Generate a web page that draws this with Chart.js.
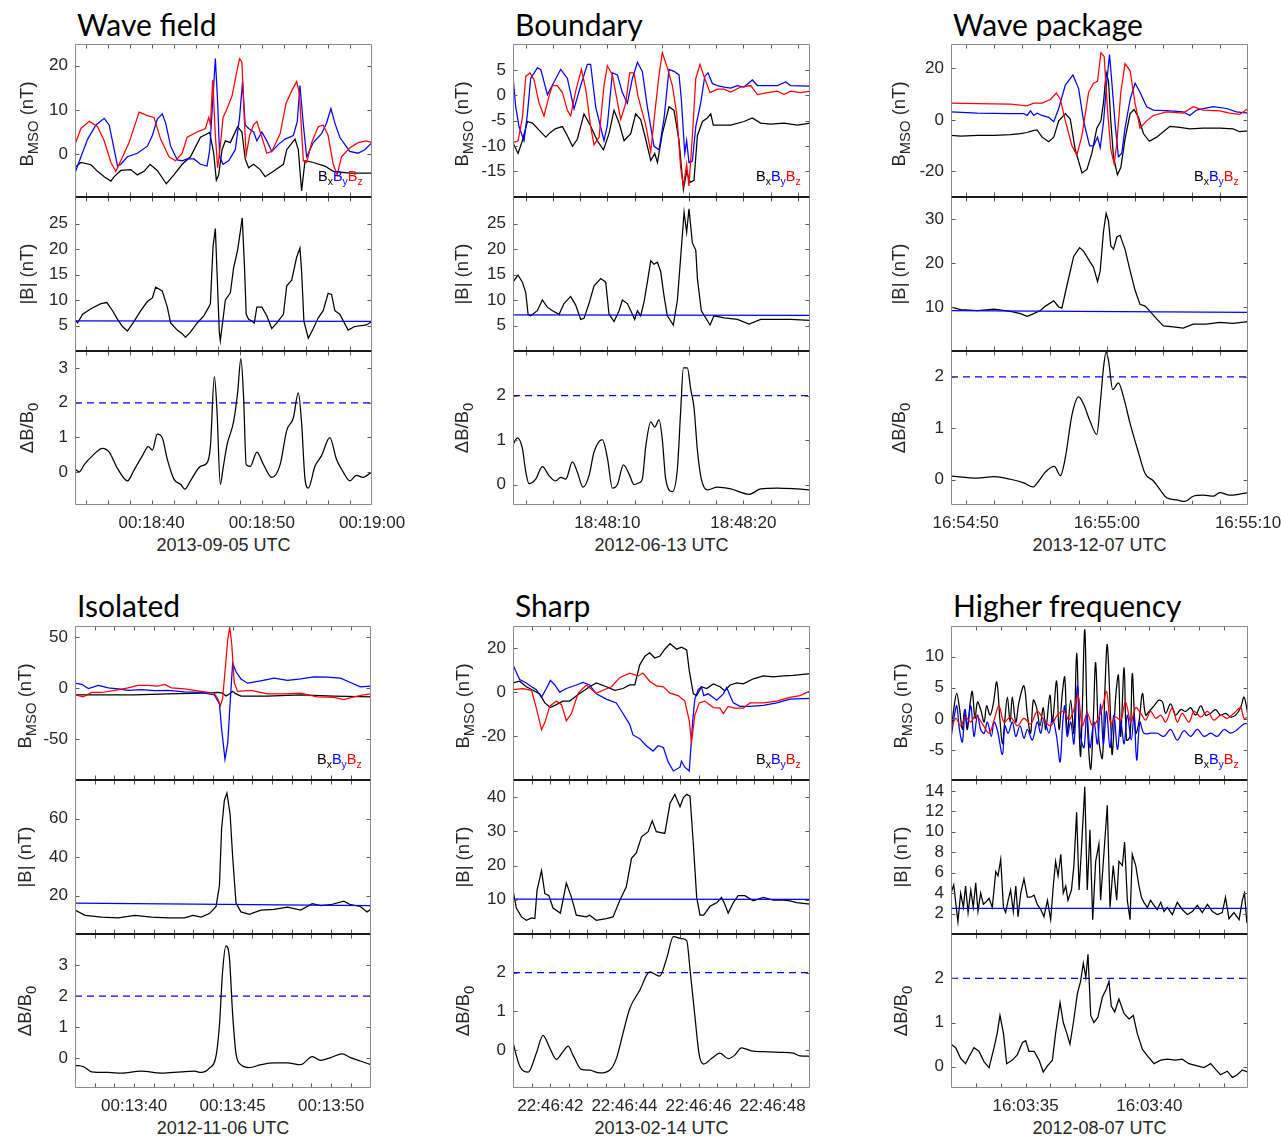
<!doctype html>
<html>
<head>
<meta charset="utf-8">
<title>Magnetic field events</title>
<script src="https://cdn.jsdelivr.net/npm/chart.js@4.4.0/dist/chart.umd.min.js"></script>
<style>
  body { margin: 0; background: #fff; }
  #fig { position: relative; width: 1281px; height: 1138px; font-family: "Liberation Sans", Arial, sans-serif; color: #262626; overflow: hidden; }
  #fig canvas { position: absolute; }
  .ttl { position: absolute; font-family: Lato, "Open Sans", sans-serif; font-size: 30px; line-height: 30px; color: #000; white-space: nowrap; }
  .ylab { position: absolute; font-size: 18.5px; line-height: 18px; white-space: nowrap; transform: translate(-50%, -50%) rotate(-90deg); }
  .ylab sub { font-size: 80%; }
  .xlab { position: absolute; font-size: 18px; line-height: 20px; white-space: nowrap; transform: translateX(-50%); }
  .leg { position: absolute; font-size: 14.5px; line-height: 14px; white-space: nowrap; }
  sub { font-size: 72%; vertical-align: -0.35em; line-height: 0; }
</style>
</head>
<body>
<div id="fig"></div>
<script>
// ---- Wave field (2013-09-05), seconds after 00:18:00
const wfTicks = [34,36,38,40,42,44,46,48,50,52,54,56,58,60];
const wfLabelAt = [40, 50, 60];
const wfLabels = ['00:18:40', '00:18:50', '00:19:00'];
const wfYTicks = [[0,10,20],[5,10,15,20,25],[0,1,2,3]];
const wfBx = [[33.04,-3],[33.58,-1.9],[34.49,-2.4],[35.09,-3.9],[35.69,-5.1],[36.30,-6.1],[36.60,-5.1],[37.20,-3.7],[38.10,-3.5],[38.70,-4.7],[39.31,-3.9],[39.85,-2.3],[40.51,-3.7],[41.33,-6.7],[42.02,-4.7],[42.77,-2.3],[43.52,-0.6],[44.43,3.8],[45.27,4.9],[45.63,0.2],[45.87,-5.9],[46.08,-4.7],[46.39,1.0],[46.69,3.0],[47.14,2.6],[47.80,6.2],[48.19,5.0],[48.49,-1.1],[48.80,-3.1],[49.25,-2.3],[49.85,-3.5],[50.30,-5.1],[51.05,-3.9],[51.96,-2.3],[52.26,1.0],[53.01,3.4],[53.31,1.0],[53.61,-8.3],[53.92,-1.5],[54.67,-1.9],[55.72,-2.7],[56.48,-3.9],[57.98,-4.3],[60,-4.3]];
const wfBy = [[33.04,-4.3],[33.58,-0.6],[34.19,3.4],[34.94,6.6],[35.69,8.1],[36.14,6.6],[36.60,1.0],[36.90,-2.7],[37.20,-2.3],[37.80,-0.6],[38.70,0.2],[39.61,1.8],[40.06,4.2],[40.51,7.9],[40.96,9.1],[41.27,7.0],[41.72,1.8],[42.32,-1.3],[42.77,-1.5],[43.22,-1.1],[43.83,-1.1],[44.43,-2.3],[45.03,-2.7],[45.27,1.0],[45.51,10.7],[45.78,21.6],[45.99,11.7],[46.17,-0.6],[46.48,-2.3],[46.99,-1.5],[47.59,1.0],[47.98,8.3],[48.25,16.4],[48.49,6.6],[48.80,5.8],[49.25,5.0],[49.55,3.0],[50.0,5.0],[50.45,3.0],[50.90,0.6],[51.51,2.2],[52.11,3.4],[52.86,4.2],[53.22,7.4],[53.46,15.5],[53.77,6.6],[54.07,-0.6],[54.67,2.6],[55.42,4.6],[55.87,7.0],[56.27,10.3],[56.63,7.0],[57.08,3.8],[57.53,2.2],[57.98,0.6],[58.73,0.2],[59.34,1.0],[60,2.6]];
const wfBz = [[33.04,2.2],[33.58,5.8],[34.34,7.4],[35.09,6.2],[35.69,3.0],[36.30,-1.9],[36.75,-3.9],[37.20,-1.5],[37.95,2.6],[38.86,9.5],[39.61,8.7],[40.21,8.3],[40.81,3.4],[41.57,-0.6],[42.17,-1.5],[42.77,0.2],[43.22,3.8],[44.13,5.0],[44.88,5.8],[45.18,8.3],[45.33,6.6],[45.54,16.8],[45.78,4.2],[45.99,-3.1],[46.23,1.8],[46.48,8.3],[46.78,9.9],[47.29,13.1],[47.74,18.8],[47.98,21.6],[48.19,20.8],[48.40,8.3],[48.58,-0.2],[48.89,4.2],[49.25,6.6],[49.55,7.4],[50.0,3.8],[50.45,0.2],[50.90,0.6],[51.66,4.6],[52.20,11.5],[52.71,14.3],[53.16,16.4],[53.40,13.9],[53.77,-1.5],[54.07,-1.9],[54.52,2.6],[55.12,6.2],[55.57,6.6],[56.02,4.2],[56.48,-2.3],[56.84,-4.7],[57.23,-0.6],[57.98,1.4],[58.73,2.6],[59.49,3.0],[60,2.6]];
const wfBt = [[33.04,6.2],[33.28,5.5],[33.73,7.2],[34.49,8.3],[35.39,9.3],[35.93,9.5],[36.45,7.9],[36.90,6.2],[37.35,4.8],[37.80,3.9],[38.40,5.8],[39.01,7.9],[39.61,9.7],[40.06,10.4],[40.36,12.5],[40.96,11.8],[41.42,8.6],[41.72,5.5],[42.32,4.1],[42.77,3.4],[43.07,2.7],[43.52,3.7],[44.13,5.5],[44.73,6.9],[45.18,8.6],[45.33,9.3],[45.57,20.5],[45.78,24.0],[45.93,15.6],[46.14,3.7],[46.23,2.0],[46.45,5.8],[46.69,10.0],[47.14,11.4],[47.44,16.3],[47.80,19.8],[48.04,23.3],[48.22,26.1],[48.43,16.3],[48.58,7.2],[48.80,6.2],[49.10,5.9],[49.31,5.5],[49.55,8.6],[50.0,8.6],[50.45,6.9],[50.90,4.4],[51.36,5.5],[51.96,7.2],[52.26,12.8],[52.71,13.9],[53.16,18.4],[53.46,20.2],[53.61,15.6],[53.82,5.8],[54.22,2.5],[54.67,4.4],[55.12,6.5],[55.57,7.9],[56.02,11.3],[56.33,11.1],[56.63,7.9],[57.08,7.2],[57.83,4.1],[58.43,4.8],[59.04,5.0],[59.49,5.1],[60,5.8]];
const wfB0 = [[33.04,5.9],[60,5.8]];
const wfDB = [[33.04,0.08],[33.43,0],[33.88,0.21],[34.64,0.47],[35.54,0.68],[36.14,0.57],[36.90,0.1],[37.80,-0.26],[38.40,0.05],[39.16,0.47],[39.70,0.73],[40.06,0.63],[40.51,1.09],[40.96,0.99],[41.42,0.36],[42.02,-0.21],[42.62,-0.36],[43.01,-0.5],[43.52,-0.26],[44.43,0.16],[45.03,0.26],[45.33,0.73],[45.69,2.76],[45.93,1.77],[46.23,-0.36],[46.48,0.1],[46.84,0.78],[47.44,1.46],[47.80,2.29],[48.10,3.28],[48.34,2.19],[48.58,0.21],[48.95,0.16],[49.55,0.57],[50.15,0.21],[50.90,-0.16],[51.66,0.21],[52.26,1.2],[52.86,1.56],[53.31,2.29],[53.61,1.41],[53.92,-0.21],[54.22,-0.47],[54.82,0.16],[55.42,0.47],[56.17,0.99],[56.78,0.36],[57.38,0],[57.98,-0.26],[58.58,-0.1],[59.19,-0.16],[60,0]];

// ---- Boundary (2012-06-13), seconds after 18:48:00
const bdTicks = [4,6,8,10,12,14,16,18,20,22,24];
const bdLabelAt = [10, 20];
const bdLabels = ['18:48:10', '18:48:20'];
const bdYTicks = [[-15,-10,-5,0,5],[5,10,15,20,25],[0,1,2]];
const bdBx = [[3.06,-9.4],[3.43,-11.5],[3.75,-9.0],[4.12,-5.2],[4.49,-5.5],[4.98,-6.9],[5.47,-8.3],[5.83,-7.3],[6.20,-6.6],[6.69,-6.2],[7.06,-8.0],[7.43,-10.1],[7.79,-8.7],[8.28,-3.7],[8.73,-5.9],[9.26,-9.0],[9.71,-10.8],[10.12,-7.6],[10.49,-3.0],[10.86,-5.5],[11.23,-9.0],[11.72,-7.6],[12.08,-3.7],[12.45,-4.8],[12.82,-8.7],[13.19,-12.9],[13.48,-11.5],[13.68,-13.3],[14.04,-7.6],[14.53,-2.3],[14.90,-3.0],[15.27,-9.0],[15.59,-18.6],[15.83,-15.1],[16.08,-17.2],[16.37,-16.8],[16.62,-8.0],[16.99,-5.2],[17.35,-4.5],[17.60,-3.7],[17.79,-5.9],[18.33,-5.9],[19.07,-5.9],[20.05,-5.2],[20.66,-4.5],[21.27,-5.5],[22.01,-5.7],[22.99,-5.5],[23.97,-5.9],[24.9,-5.5]];
const bdBy = [[3.06,3.7],[3.26,-2.3],[3.50,-6.2],[3.87,-9.0],[4.12,-3.7],[4.36,3.3],[4.85,5.4],[5.10,5.1],[5.59,0.1],[6.08,2.6],[6.57,5.1],[7.06,3.3],[7.55,-2.7],[8.04,1.9],[8.53,6.1],[8.77,6.1],[9.14,-2.3],[9.75,-9.0],[10.0,-5.9],[10.37,4.4],[10.74,4.0],[11.10,0.5],[11.47,-1.6],[11.84,3.3],[12.21,6.5],[12.57,4.7],[12.94,-2.3],[13.43,-10.1],[13.80,-10.8],[14.17,-4.5],[14.53,5.1],[14.90,4.7],[15.27,4.0],[15.44,-0.9],[15.69,-11.5],[15.83,-9.0],[16.0,-13.3],[16.25,-13.0],[16.50,-6.2],[16.86,-1.6],[17.16,3.7],[17.40,4.4],[17.72,2.3],[18.09,1.9],[18.58,1.6],[19.07,1.4],[19.56,1.9],[20.05,1.6],[20.66,3.0],[21.03,1.9],[21.76,1.9],[22.50,1.9],[23.11,2.6],[23.48,1.9],[24.9,1.8]];
const bdBz = [[3.06,-9.4],[3.43,-9.0],[3.75,-4.5],[4.0,3.7],[4.31,4.4],[4.61,3.0],[4.98,-1.6],[5.34,-4.1],[5.71,-0.2],[5.96,1.9],[6.32,1.9],[6.69,0.5],[7.06,-3.0],[7.30,-4.1],[7.67,0.8],[8.09,5.1],[8.41,1.2],[8.77,-6.2],[9.02,-9.8],[9.39,-8.3],[9.75,1.9],[10.0,5.8],[10.37,4.0],[10.61,0.5],[10.98,-4.8],[11.35,-1.6],[11.64,4.4],[11.96,4.4],[12.25,-0.2],[12.82,-5.9],[13.19,-11.2],[13.48,-3.7],[13.80,4.0],[14.04,8.4],[14.41,5.4],[14.78,1.9],[15.10,-3.7],[15.39,-14.3],[15.59,-17.9],[15.83,-13.6],[16.0,-17.9],[16.25,-8.0],[16.50,3.3],[16.81,6.1],[17.11,3.7],[17.55,0.5],[18.09,1.2],[18.58,1.2],[19.07,0.6],[19.80,1.6],[20.54,1.9],[21.03,0.1],[21.76,0.5],[22.50,0.8],[22.99,0.1],[23.48,0.8],[24.22,0.5],[24.9,0.8]];
const bdBt = [[3.06,13.5],[3.43,14.9],[3.75,13.5],[4.0,11.4],[4.17,7.2],[4.36,6.9],[4.85,7.9],[5.22,10.0],[5.59,8.6],[5.96,7.9],[6.45,7.2],[6.81,9.3],[7.30,10.7],[7.67,9.0],[8.04,6.2],[8.28,6.4],[8.65,9.3],[9.02,12.8],[9.51,14.2],[9.88,13.5],[10.12,7.2],[10.49,5.8],[10.86,7.9],[11.10,10.0],[11.47,9.3],[11.84,7.2],[12.01,6.2],[12.21,7.9],[12.45,6.9],[12.70,9.7],[12.94,13.5],[13.19,17.7],[13.43,17.0],[13.68,17.4],[13.92,15.6],[14.17,10.7],[14.41,6.9],[14.85,5.1],[15.15,10.0],[15.39,18.4],[15.64,27.2],[15.83,23.3],[16.0,27.9],[16.25,21.2],[16.50,19.8],[16.62,14.2],[16.91,7.9],[17.23,6.5],[17.55,5.1],[17.84,6.9],[18.58,6.5],[19.56,6.2],[20.42,5.3],[21.27,6.2],[22.50,6.2],[23.48,6.2],[24.9,6.0]];
const bdB0 = [[3.06,7.1],[24.9,7.0]];
const bdDB = [[3.06,0.89],[3.38,1.05],[3.75,0.81],[4.0,0.28],[4.24,0.02],[4.73,0.12],[5.22,0.40],[5.71,0.20],[6.20,0.08],[6.57,0.16],[6.94,0.12],[7.43,0.51],[7.79,0.28],[8.21,-0.06],[8.65,0.20],[9.02,0.73],[9.63,1.01],[10.0,0.60],[10.37,-0.08],[10.74,0],[11.18,0.44],[11.59,0.24],[11.96,0],[12.33,0.04],[12.57,0.12],[12.82,0.85],[13.19,1.41],[13.48,1.29],[13.80,1.45],[14.04,1.01],[14.29,0.12],[14.78,-0.16],[15.15,0.36],[15.39,1.65],[15.59,2.62],[15.88,2.62],[16.13,2.14],[16.37,1.73],[16.62,0.77],[16.91,0.12],[17.35,-0.12],[18.09,-0.06],[19.07,-0.10],[20.42,-0.22],[21.27,-0.10],[22.50,-0.08],[23.97,-0.10],[24.9,-0.12]];

// ---- Wave package (2013-12-07), seconds after 16:54:00
const wpTicks = [50,52,54,56,58,60,62,64,66,68,70];
const wpLabelAt = [50, 60, 70];
const wpLabels = ['16:54:50', '16:55:00', '16:55:10'];
const wpYTicks = [[-20,0,20],[10,20,30],[0,1,2]];
const wpBx = [[48.96,-6.0],[49.65,-6.3],[50.82,-6.0],[52.0,-6.0],[53.18,-5.7],[53.88,-5.3],[54.35,-4.9],[54.71,-4.3],[55.06,-3.9],[55.41,-6.7],[55.88,-8.5],[56.24,-6.7],[56.59,-0.4],[57.06,2.4],[57.41,0.3],[57.76,-11.5],[58.24,-20.6],[58.59,-19.2],[58.94,-12.9],[59.29,-3.2],[59.58,-0.4],[59.76,6.5],[59.95,18.3],[60.12,14.9],[60.28,-0.4],[60.47,-14.3],[60.75,-21.3],[60.99,-18.5],[61.29,-7.4],[61.65,2.4],[61.93,4.0],[62.24,1.0],[62.59,-5.3],[63.01,-8.3],[63.53,-6.7],[64.0,-4.6],[64.47,-2.5],[65.18,-2.9],[65.88,-3.5],[66.82,-3.2],[68.0,-3.2],[68.94,-3.5],[69.41,-4.6],[70,-4.3]];
const wpBy = [[48.96,3.1],[50.82,2.6],[53.18,2.4],[54.12,2.4],[54.35,1.7],[54.59,3.5],[54.82,1.7],[55.06,2.6],[55.41,1.7],[55.88,1.0],[56.24,-0.7],[56.59,4.4],[57.06,13.5],[57.60,17.4],[58.0,12.1],[58.35,-0.4],[58.78,-10.1],[59.06,-10.1],[59.34,-6.7],[59.53,-10.8],[59.76,-1.1],[60.0,14.9],[60.19,25.3],[60.35,14.9],[60.59,-1.8],[60.82,-14.3],[61.06,-12.9],[61.29,-3.2],[61.65,7.9],[62.0,14.2],[62.35,10.7],[62.82,5.1],[63.29,3.8],[64.47,3.5],[65.41,3.1],[65.88,1.7],[66.35,3.8],[67.53,5.1],[68.47,4.4],[69.18,3.1],[70,2.6]];
const wpBz = [[48.96,6.5],[50.82,6.3],[53.18,6.1],[54.35,5.4],[54.82,6.5],[55.41,6.5],[56.0,7.9],[56.42,10.4],[56.71,7.9],[57.06,-0.4],[57.53,-10.1],[57.88,-13.6],[58.24,-6.0],[58.71,10.7],[59.06,14.2],[59.34,14.9],[59.58,26.0],[59.81,24.6],[60.05,3.8],[60.28,-11.5],[60.52,-17.1],[60.71,-8.8],[60.99,10.7],[61.29,21.8],[61.65,19.0],[62.0,6.5],[62.35,-3.2],[62.82,-0.4],[63.29,1.7],[64.24,3.1],[65.41,2.6],[66.12,5.1],[66.82,3.8],[68.0,3.5],[68.71,2.6],[69.41,2.1],[70,4.4]];
const wpBt = [[48.96,10.0],[49.65,9.4],[50.82,9.2],[52.0,9.5],[53.18,9.0],[53.88,8.5],[54.35,7.9],[54.82,8.5],[55.29,9.2],[55.65,10.2],[56.24,11.4],[56.59,10.0],[56.82,9.8],[57.18,15.0],[57.65,21.5],[58.07,23.5],[58.35,22.7],[58.82,20.2],[59.06,19.0],[59.34,15.8],[59.53,18.2],[59.76,27.1],[59.95,31.3],[60.12,29.5],[60.28,23.9],[60.47,23.1],[60.71,25.9],[60.94,26.3],[61.29,23.1],[61.65,18.2],[62.0,13.8],[62.35,10.6],[62.71,10.2],[63.06,9.0],[63.53,7.3],[64.0,5.7],[64.71,5.5],[65.41,5.2],[66.12,6.1],[67.06,6.1],[68.0,6.5],[68.94,6.3],[70,6.7]];
const wpB0 = [[48.96,9.2],[70,8.8]];
const wpDB = [[48.96,0.07],[50.82,0.03],[52.0,0.06],[53.18,0.01],[54.12,-0.06],[54.78,-0.14],[55.18,-0.02],[55.65,0.15],[56.28,0.26],[56.71,0.08],[57.06,0.43],[57.53,1.26],[58.0,1.61],[58.35,1.47],[58.82,1.13],[59.29,0.88],[59.53,1.47],[59.76,2.17],[59.95,2.48],[60.12,2.31],[60.42,1.75],[60.82,1.88],[61.18,1.61],[61.65,1.09],[62.24,0.53],[62.71,0.12],[63.29,-0.02],[63.76,-0.19],[64.24,-0.35],[64.94,-0.39],[65.53,-0.42],[66.12,-0.32],[66.82,-0.30],[67.53,-0.32],[68.0,-0.25],[68.71,-0.30],[69.41,-0.28],[70,-0.25]];

// ---- Isolated (2012-11-06), seconds after 00:13:00
const isoTicks = [38,39,40,41,42,43,44,45,46,47,48,49,50,51,52];
const isoLabelAt = [40, 45, 50];
const isoLabels = ['00:13:40', '00:13:45', '00:13:50'];
const isoYTicks = [[-50,0,50],[20,40,60],[0,1,2,3]];
const isoBx = [[37.0,-6.6],[38.35,-6.6],[40.03,-6.6],[41.72,-5.6],[43.40,-4.9],[44.24,-4.2],[44.49,-4.9],[44.66,-7.7],[44.83,-5.6],[45.0,-3.1],[45.17,-5.6],[45.42,-7.7],[46.77,-7.7],[48.45,-6.6],[50.13,-7.7],[52.02,-8.4]];
const isoBy = [[37.0,4.9],[37.34,3.8],[37.68,-0.3],[38.18,2.8],[38.69,0.3],[39.19,-0.7],[39.70,-2.1],[40.37,-1.4],[41.04,-2.4],[41.72,-2.1],[42.56,-3.5],[43.40,-4.2],[44.07,-6.6],[44.33,-15.4],[44.44,-39.9],[44.61,-69.6],[44.75,-53.8],[44.88,-11.9],[45.0,24.8],[45.17,16.1],[45.42,9.1],[45.76,4.9],[46.43,7.3],[47.10,9.8],[47.78,7.7],[48.45,9.1],[49.12,11.2],[49.80,10.8],[50.47,9.8],[50.98,5.6],[51.48,1.4],[52.02,2.1]];
const isoBz = [[37.0,-6.6],[37.42,-8.4],[37.85,-4.2],[38.35,-4.2],[39.02,-2.1],[39.70,0.3],[40.20,2.8],[40.71,2.8],[41.21,2.1],[41.55,3.8],[41.89,0.3],[42.56,-0.7],[43.40,-3.1],[44.07,-4.9],[44.24,-10.1],[44.38,-17.1],[44.49,-10.1],[44.61,16.1],[44.75,47.6],[44.85,59.8],[44.95,44.1],[45.08,5.6],[45.25,-3.1],[45.93,-2.1],[46.77,-5.6],[47.61,-5.6],[48.45,-4.9],[49.29,-8.4],[50.13,-9.1],[50.64,-11.2],[51.14,-8.4],[51.65,-6.6],[52.02,-5.6]];
const isoBt = [[37.0,12.4],[37.51,9.7],[38.35,8.8],[39.19,8.4],[40.03,9.7],[40.88,8.8],[41.72,8.4],[42.56,8.4],[42.98,9.7],[43.40,8.8],[43.82,10.6],[44.16,14.3],[44.33,25.3],[44.44,54.8],[44.58,69.5],[44.71,73.2],[44.87,62.2],[45.0,40.1],[45.17,16.1],[45.42,11.5],[45.84,10.2],[46.43,12.4],[47.10,12.8],[47.78,13.9],[48.45,12.4],[49.04,15.8],[49.46,14.7],[49.97,15.2],[50.64,17.1],[50.98,15.2],[51.48,14.3],[51.82,11.5],[52.02,12.8]];
const isoB0 = [[37.0,16.1],[52.02,14.8]];
const isoDB = [[37.0,-0.23],[37.42,-0.27],[37.85,-0.44],[38.69,-0.46],[39.36,-0.48],[40.37,-0.42],[41.38,-0.48],[42.39,-0.44],[43.06,-0.42],[43.40,-0.46],[43.82,-0.32],[44.16,0.08],[44.33,1.07],[44.49,2.80],[44.66,3.62],[44.83,3.27],[45.0,1.41],[45.17,0.14],[45.42,-0.21],[45.84,-0.30],[46.43,-0.21],[47.10,-0.15],[47.78,-0.15],[48.45,-0.21],[49.04,0.05],[49.46,-0.07],[49.97,0.02],[50.56,0.14],[50.98,0.02],[51.48,-0.09],[52.02,-0.21]];

// ---- Sharp (2013-02-14), seconds after 22:46:00
const shTicks = [41,41.5,42,42.5,43,43.5,44,44.5,45,45.5,46,46.5,47,47.5,48,48.5,49];
const shLabelAt = [42, 44, 46, 48];
const shLabels = ['22:46:42', '22:46:44', '22:46:46', '22:46:48'];
const shYTicks = [[-20,0,20],[10,20,30,40],[0,1,2]];
const shBx = [[40.99,4.1],[41.17,4.9],[41.35,2.4],[41.53,0.8],[41.71,-0.8],[41.85,-4.9],[42.0,-7.0],[42.16,-5.7],[42.34,-4.1],[42.52,-4.1],[42.78,-0.8],[43.06,2.4],[43.24,4.1],[43.51,2.4],[43.74,0.8],[43.96,1.6],[44.14,3.2],[44.28,3.2],[44.41,12.2],[44.55,16.2],[44.68,17.8],[44.82,15.4],[44.95,16.2],[45.09,19.4],[45.23,21.9],[45.41,19.4],[45.54,20.3],[45.68,19.1],[45.75,9.7],[45.86,-0.8],[45.95,-1.6],[46.08,2.4],[46.22,1.6],[46.40,3.7],[46.58,2.4],[46.71,0.5],[46.85,3.2],[47.03,4.1],[47.21,3.7],[47.48,6.0],[47.75,7.3],[48.02,6.9],[48.29,7.3],[48.56,7.6],[49.01,8.4]];
const shBy = [[40.99,12.2],[41.17,5.7],[41.35,4.1],[41.49,2.4],[41.62,1.1],[41.76,-2.4],[41.89,1.6],[42.0,5.3],[42.12,3.2],[42.25,0],[42.43,1.6],[42.70,3.2],[42.88,4.4],[43.06,3.2],[43.24,-0.8],[43.51,-3.2],[43.78,-4.9],[43.96,-9.7],[44.14,-14.6],[44.23,-19.4],[44.41,-21.1],[44.59,-24.3],[44.77,-26.7],[44.91,-24.3],[45.05,-25.1],[45.18,-31.6],[45.32,-35.7],[45.50,-34.0],[45.54,-31.3],[45.63,-34.0],[45.75,-35.7],[45.84,-13.6],[45.90,-3.2],[45.99,1.1],[46.08,2.4],[46.14,-1.6],[46.26,-0.8],[46.49,-3.7],[46.67,-0.8],[46.76,2.1],[46.85,-1.6],[46.94,-4.9],[47.12,-6.5],[47.39,-6.5],[47.75,-6.0],[48.11,-4.9],[48.47,-3.2],[49.01,-2.9]];
const shBz = [[40.99,1.1],[41.26,1.6],[41.49,0.8],[41.62,-7.3],[41.76,-17.0],[41.85,-13.8],[41.98,-6.5],[42.16,-4.1],[42.30,-5.7],[42.43,-13.0],[42.57,-9.7],[42.75,-0.5],[42.97,3.2],[43.24,-0.5],[43.42,0.8],[43.65,2.4],[43.87,6.5],[44.14,8.6],[44.37,7.3],[44.50,8.6],[44.68,4.9],[44.86,2.8],[45.05,2.4],[45.23,-0.5],[45.45,-1.6],[45.63,-4.1],[45.75,-13.0],[45.81,-22.7],[45.90,-10.5],[46.02,-4.9],[46.17,-4.1],[46.40,-7.0],[46.58,-7.3],[46.67,-9.7],[46.80,-6.5],[46.98,-7.3],[47.21,-7.3],[47.39,-4.9],[47.75,-4.9],[48.11,-4.1],[48.47,-2.4],[48.74,-1.6],[49.01,0.5]];
const shBt = [[40.99,12.8],[41.08,7.6],[41.22,5.0],[41.35,4.0],[41.49,4.7],[41.58,4.5],[41.64,12.8],[41.76,18.5],[41.85,11.8],[41.96,11.2],[42.07,7.6],[42.27,6.1],[42.43,14.9],[42.57,10.7],[42.70,5.5],[42.97,5.0],[43.06,5.5],[43.24,4.0],[43.51,4.5],[43.69,5.0],[43.87,9.7],[44.05,13.8],[44.19,22.1],[44.32,23.7],[44.46,28.4],[44.64,29.9],[44.75,33.1],[44.86,29.9],[45.09,29.4],[45.23,38.2],[45.36,40.8],[45.50,37.2],[45.59,39.8],[45.68,40.8],[45.77,40.3],[45.86,26.3],[45.95,10.7],[46.04,5.5],[46.14,5.5],[46.31,8.1],[46.50,9.2],[46.62,10.7],[46.71,8.7],[46.80,6.1],[46.94,9.2],[47.07,11.2],[47.25,11.2],[47.48,9.7],[47.75,10.7],[48.02,9.9],[48.29,9.9],[48.47,9.7],[48.65,9.2],[49.01,8.7]];
const shB0 = [[40.99,10.2],[49.01,10.1]];
const shDB = [[40.99,0.19],[41.17,-0.41],[41.40,-0.57],[41.62,-0.08],[41.80,0.38],[41.98,0.06],[42.16,-0.24],[42.34,-0.04],[42.48,0.10],[42.61,-0.13],[42.84,-0.5],[43.06,-0.52],[43.33,-0.59],[43.60,-0.52],[43.78,-0.22],[43.96,0.43],[44.14,1.07],[44.41,1.54],[44.68,2.02],[44.95,1.91],[45.14,2.37],[45.32,2.93],[45.54,2.88],[45.68,2.83],[45.77,2.09],[45.90,0.89],[46.02,-0.13],[46.14,-0.36],[46.35,-0.22],[46.58,-0.08],[46.80,-0.22],[46.98,-0.13],[47.16,0.06],[47.43,-0.02],[47.75,-0.04],[48.20,-0.06],[48.56,-0.08],[48.74,-0.15],[49.01,-0.16]];

// ---- Higher frequency (2012-08-07), seconds after 16:03:00
const hfTicks = [33,34,35,36,37,38,39,40,41,42,43];
const hfLabelAt = [35, 40];
const hfLabels = ['16:03:35', '16:03:40'];
const hfYTicks = [[-5,0,5,10],[2,4,6,8,10,12,14],[0,1,2]];
const hfBx = [[31.98,-2.3],[32.10,1.8],[32.21,4.1],[32.32,1.8],[32.44,-1.7],[32.53,1.5],[32.64,-1.7],[32.75,2.4],[32.84,4.4],[32.95,0.1],[33.05,2.7],[33.18,1.5],[33.32,-0.5],[33.42,2.1],[33.56,0.6],[33.69,2.4],[33.83,5.9],[33.96,-0.2],[34.06,-4.0],[34.15,-0.5],[34.26,3.5],[34.37,-0.5],[34.46,3.5],[34.60,-0.5],[34.73,2.7],[34.93,5.3],[35.07,0.6],[35.20,-2.3],[35.31,3.0],[35.44,1.8],[35.58,-1.1],[35.71,1.8],[35.81,-1.7],[35.98,3.8],[36.08,-0.5],[36.25,6.1],[36.35,-1.7],[36.48,4.1],[36.58,6.7],[36.68,-2.3],[36.82,3.0],[36.95,-2.3],[37.06,10.5],[37.16,-1.7],[37.22,-6.0],[37.29,1.8],[37.39,14.3],[37.49,-0.5],[37.63,-8.1],[37.74,0.6],[37.83,9.0],[37.96,-3.4],[38.10,-6.3],[38.21,5.3],[38.30,11.9],[38.44,-0.5],[38.50,-5.7],[38.64,3.5],[38.75,7.0],[38.84,-2.8],[38.98,8.2],[39.08,-3.4],[39.22,-2.8],[39.31,7.3],[39.45,-2.3],[39.58,-0.5],[39.72,4.1],[39.85,0.6],[39.99,1.2],[40.19,2.1],[40.39,3.0],[40.53,2.7],[40.66,0.9],[40.86,2.4],[41.06,0.6],[41.27,1.5],[41.47,1.2],[41.67,1.8],[41.87,0.6],[42.08,2.1],[42.28,0.6],[42.48,0.9],[42.68,1.5],[42.88,0.6],[43.08,0.9],[43.29,0.3],[43.49,0.6],[43.69,1.8],[43.83,3.5],[43.99,0.6]];
const hfBy = [[31.98,-3.1],[32.10,0.1],[32.21,2.1],[32.32,-1.7],[32.44,-3.7],[32.55,1.5],[32.64,-1.1],[32.78,2.1],[32.91,-2.8],[33.05,0.6],[33.18,-1.7],[33.32,-2.3],[33.45,-0.5],[33.61,-2.8],[33.72,-0.5],[33.85,-1.7],[34.06,-5.7],[34.16,-1.1],[34.29,-2.3],[34.46,-0.5],[34.60,-2.8],[34.77,-1.1],[34.93,-3.1],[35.07,-1.7],[35.27,-3.4],[35.47,-0.5],[35.61,-2.3],[35.74,0.1],[35.94,-2.3],[36.08,0.1],[36.25,-2.8],[36.39,-6.9],[36.50,-0.5],[36.58,2.1],[36.68,-2.8],[36.82,-0.5],[36.95,-4.0],[37.09,5.3],[37.22,-2.8],[37.36,-4.6],[37.47,1.2],[37.60,-4.6],[37.76,-0.5],[37.90,-4.0],[38.03,2.4],[38.14,-4.0],[38.27,1.2],[38.41,-4.6],[38.57,0.6],[38.71,-4.9],[38.84,-0.5],[38.98,-4.0],[39.11,0.6],[39.27,-3.4],[39.38,0.6],[39.49,-6.6],[39.62,-0.5],[39.78,-2.3],[40.05,-2.3],[40.32,-2.3],[40.59,-2.8],[40.86,-1.7],[41.13,-3.4],[41.40,-1.9],[41.67,-2.8],[41.94,-1.7],[42.21,-2.8],[42.48,-2.3],[42.75,-2.8],[43.02,-1.7],[43.29,-2.3],[43.56,-1.7],[43.83,-0.8],[43.99,-0.8]];
const hfBz = [[31.98,-1.7],[32.17,0.1],[32.37,-1.1],[32.57,0.3],[32.78,-0.5],[32.98,0.6],[33.25,-0.8],[33.52,-2.3],[33.72,-0.2],[33.92,2.1],[34.12,-0.5],[34.39,0.3],[34.66,-1.1],[34.93,0.1],[35.20,-0.8],[35.47,1.2],[35.74,-0.2],[36.01,-1.1],[36.28,0.6],[36.55,1.2],[36.75,-0.2],[36.95,1.5],[37.12,3.8],[37.29,-1.1],[37.49,0.9],[37.70,-1.1],[37.90,-0.2],[38.10,1.8],[38.27,4.4],[38.44,-0.8],[38.64,0.3],[38.84,-0.2],[39.04,2.7],[39.25,-0.5],[39.45,1.8],[39.65,0.9],[39.85,-0.2],[40.05,1.2],[40.26,0.1],[40.46,0.6],[40.66,-0.5],[40.93,1.8],[41.13,-0.5],[41.33,0.9],[41.60,-0.5],[41.81,1.2],[42.08,0.3],[42.35,1.2],[42.61,-0.2],[42.88,0.6],[43.15,0.1],[43.42,0.9],[43.69,1.8],[43.83,0.1],[43.99,0.3]];
const hfBt = [[31.98,4.0],[32.09,4.8],[32.17,3.1],[32.26,1.2],[32.37,4.0],[32.48,2.6],[32.57,4.7],[32.67,2.1],[32.78,4.3],[32.88,2.6],[32.98,5.0],[33.07,2.2],[33.18,4.0],[33.29,2.9],[33.38,3.1],[33.52,3.5],[33.65,2.6],[33.79,6.1],[33.88,5.7],[33.99,7.3],[34.10,2.6],[34.19,2.1],[34.29,3.3],[34.39,4.3],[34.50,2.2],[34.60,4.7],[34.69,1.7],[34.80,4.0],[34.93,5.4],[35.07,3.6],[35.20,3.6],[35.34,3.8],[35.47,2.9],[35.61,2.4],[35.74,1.7],[35.88,3.3],[36.01,1.4],[36.12,4.8],[36.21,7.1],[36.31,5.7],[36.42,7.8],[36.52,4.0],[36.62,4.7],[36.71,3.3],[36.85,4.3],[36.95,6.7],[37.06,11.9],[37.16,4.3],[37.25,8.1],[37.39,14.4],[37.49,4.3],[37.60,10.2],[37.71,1.4],[37.83,7.1],[37.96,8.8],[38.03,3.3],[38.17,8.1],[38.30,12.6],[38.41,2.6],[38.54,6.7],[38.68,3.3],[38.77,7.1],[38.91,6.7],[39.00,9.0],[39.11,3.3],[39.22,1.4],[39.31,7.8],[39.45,6.7],[39.58,4.7],[39.68,3.6],[39.78,3.1],[39.92,2.6],[40.05,3.3],[40.19,2.8],[40.32,2.4],[40.46,3.1],[40.59,2.2],[40.73,2.6],[40.93,1.9],[41.13,3.1],[41.33,2.4],[41.54,1.9],[41.74,2.2],[41.94,2.8],[42.14,2.1],[42.35,2.9],[42.55,2.2],[42.75,1.9],[42.95,2.1],[43.08,3.6],[43.22,1.5],[43.42,2.1],[43.63,1.4],[43.76,3.3],[43.85,4.0],[43.94,1.2],[43.99,0.9]];
const hfB0 = [[31.98,2.5],[43.99,2.5]];
const hfDB = [[31.98,0.51],[32.17,0.43],[32.37,0.19],[32.57,0.07],[32.71,0.23],[32.91,0.43],[33.11,0.35],[33.32,0.11],[33.52,-0.02],[33.72,0.43],[33.85,0.76],[33.96,1.16],[34.10,0.76],[34.23,0.07],[34.46,0.15],[34.66,0.27],[34.87,0.55],[35.0,0.59],[35.13,0.35],[35.34,0.35],[35.54,0.15],[35.71,-0.12],[35.88,0.02],[36.08,0.15],[36.21,0.76],[36.39,1.45],[36.52,1.0],[36.66,0.76],[36.79,0.51],[36.93,1.0],[37.09,1.65],[37.22,1.93],[37.33,2.34],[37.43,2.02],[37.52,2.54],[37.63,1.16],[37.76,1.0],[37.92,1.12],[38.10,1.57],[38.27,1.77],[38.37,1.93],[38.46,1.37],[38.60,1.24],[38.77,1.53],[38.98,1.20],[39.18,1.08],[39.35,1.16],[39.51,0.76],[39.72,0.39],[39.95,0.23],[40.19,0.07],[40.46,0.15],[40.73,0.17],[41.06,0.15],[41.33,0.17],[41.60,0.07],[41.94,0.02],[42.21,-0.02],[42.48,0.07],[42.68,-0.06],[42.88,-0.18],[43.15,-0.10],[43.36,-0.24],[43.56,-0.18],[43.76,-0.07],[43.99,-0.12]];

const threshold = 2;

// ---- layout
const rowEdges = [[44, 197, 351, 505], [626, 780, 934, 1088]];
const panels = [
  { title: 'Wave field', left: 75, right: 372, row: 0, date: '2013-09-05 UTC', xr: [33.04, 60], ylx: 27,
    yr: [[-9.7, 24.9], [0, 30.2], [-0.96, 3.5]], ticks: wfTicks, labelAt: wfLabelAt, labels: wfLabels, yTicks: wfYTicks,
    bx: wfBx, by: wfBy, bz: wfBz, bt: wfBt, b0: wfB0, db: wfDB },
  { title: 'Boundary', left: 513, right: 810, row: 0, date: '2012-06-13 UTC', xr: [3.06, 24.9], ylx: 462,
    yr: [[-20.1, 10.1], [0, 30.2], [-0.46, 3.0]], ticks: bdTicks, labelAt: bdLabelAt, labels: bdLabels, yTicks: bdYTicks,
    bx: bdBx, by: bdBy, bz: bdBz, bt: bdBt, b0: bdB0, db: bdDB },
  { title: 'Wave package', left: 951, right: 1248, row: 0, date: '2013-12-07 UTC', xr: [48.96, 70], ylx: 899,
    yr: [[-29.9, 29.4], [0, 35], [-0.49, 2.5]], ticks: wpTicks, labelAt: wpLabelAt, labels: wpLabels, yTicks: wpYTicks,
    bx: wpBx, by: wpBy, bz: wpBz, bt: wpBt, b0: wpB0, db: wpDB },
  { title: 'Isolated', left: 75, right: 371, row: 1, date: '2012-11-06 UTC', xr: [37.0, 52.02], ylx: 25,
    yr: [[-90, 61], [0, 80], [-0.96, 4.0]], ticks: isoTicks, labelAt: isoLabelAt, labels: isoLabels, yTicks: isoYTicks,
    bx: isoBx, by: isoBy, bz: isoBz, bt: isoBt, b0: isoB0, db: isoDB },
  { title: 'Sharp', left: 513, right: 810, row: 1, date: '2013-02-14 UTC', xr: [40.99, 49.01], ylx: 463,
    yr: [[-39.8, 29.9], [0, 45], [-0.98, 3.0]], ticks: shTicks, labelAt: shLabelAt, labels: shLabels, yTicks: shYTicks,
    bx: shBx, by: shBy, bz: shBz, bt: shBt, b0: shB0, db: shDB },
  { title: 'Higher frequency', left: 951, right: 1248, row: 1, date: '2012-08-07 UTC', xr: [31.98, 43.99], ylx: 901,
    yr: [[-9.8, 14.9], [0, 15.07], [-0.48, 3.0]], ticks: hfTicks, labelAt: hfLabelAt, labels: hfLabels, yTicks: hfYTicks,
    bx: hfBx, by: hfBy, bz: hfBz, bt: hfBt, b0: hfB0, db: hfDB, smooth: true }
];

Chart.defaults.font.family = '"Liberation Sans", Arial, sans-serif';
Chart.defaults.color = '#262626';

// MATLAB-style box with inward ticks on all four sides
const boxPlugin = {
  id: 'box',
  afterDraw(chart, args, opts) {
    const { ctx, chartArea: a, scales: { x, y } } = chart;
    const l = Math.round(a.left) + 0.5, r = Math.round(a.right) - 0.5;
    const t = Math.round(a.top) + 0.5, b = Math.round(a.bottom) - 0.5;
    ctx.save();
    ctx.lineWidth = 1;
    ctx.strokeStyle = '#5a5a5a';
    ctx.beginPath();
    x.ticks.forEach(tk => {
      const px = Math.round(x.getPixelForValue(tk.value)) + 0.5;
      if (px < l + 1 || px > r - 1) return;
      ctx.moveTo(px, t); ctx.lineTo(px, t + 4);
      ctx.moveTo(px, b); ctx.lineTo(px, b - 4);
    });
    y.ticks.forEach(tk => {
      const py = Math.round(y.getPixelForValue(tk.value)) + 0.5;
      ctx.moveTo(l, py); ctx.lineTo(l + 4, py);
      ctx.moveTo(r, py); ctx.lineTo(r - 4, py);
    });
    ctx.stroke();
    ctx.strokeStyle = '#8a8a8a';
    ctx.beginPath();
    ctx.moveTo(l, t); ctx.lineTo(l, b);
    ctx.moveTo(r, t); ctx.lineTo(r, b);
    if (opts.k === 0) { ctx.moveTo(l, t); ctx.lineTo(r, t); }
    if (opts.k === 2) { ctx.moveTo(l, b); ctx.lineTo(r, b); }
    ctx.stroke();
    ctx.strokeStyle = '#1a1a1a';
    ctx.beginPath();
    if (opts.k > 0) { ctx.moveTo(l, t); ctx.lineTo(r, t); }
    if (opts.k < 2) { ctx.moveTo(l, b); ctx.lineTo(r, b); }
    ctx.stroke();
    ctx.restore();
  }
};

const fig = document.getElementById('fig');
const L = 60, R = 45, T = 8;

function addDiv(cls, html, left, top) {
  const d = document.createElement('div');
  d.className = cls;
  d.innerHTML = html;
  d.style.left = left + 'px';
  d.style.top = top + 'px';
  fig.appendChild(d);
  return d;
}

function line(data, color, extra) {
  return Object.assign({ data: data, borderColor: color, borderWidth: 1.25, pointRadius: 0, tension: 0, fill: false }, extra || {});
}

panels.forEach(p => {
  const edges = rowEdges[p.row];
  addDiv('ttl', p.title, p.left + 2, p.row === 0 ? 9 : 590);
  addDiv('xlab', p.date, (p.left + p.right) / 2, edges[3] + 30);

  for (let k = 0; k < 3; k++) {
    const top = edges[k], bot = edges[k + 1];
    const last = k === 2;
    const bm = last ? 40 : 8;
    const cv = document.createElement('canvas');
    cv.width = p.right - p.left + L + R;
    cv.height = bot - top + T + bm;
    cv.style.left = (p.left - L) + 'px';
    cv.style.top = (top - T) + 'px';
    fig.appendChild(cv);

    let datasets;
    if (k === 0) {
      const sm = p.smooth ? { tension: 0.35 } : {};
      datasets = [line(p.bz, '#ff0000', sm), line(p.by, '#0000ff', sm), line(p.bx, '#000000', sm)];
    } else if (k === 1) {
      datasets = [line(p.b0, '#0000ff'), line(p.bt, '#000000')];
    } else {
      datasets = [
        line(p.db, '#000000', { cubicInterpolationMode: p.smooth ? 'default' : 'monotone' }),
        line([[p.xr[0], threshold], [p.xr[1], threshold]], '#0000ff', { borderDash: [7, 5] })
      ];
    }

    new Chart(cv, {
      type: 'line',
      data: { datasets: datasets },
      plugins: [boxPlugin],
      options: {
        responsive: false,
        animation: false,
        events: [],
        layout: { padding: { left: 0, right: R, top: T, bottom: last ? 0 : 8 } },
        plugins: { legend: { display: false }, tooltip: { enabled: false }, box: { k: k } },
        scales: {
          x: {
            type: 'linear', min: p.xr[0], max: p.xr[1],
            grid: { display: false, drawTicks: false }, border: { display: false },
            ticks: {
              display: last, autoSkip: false, maxRotation: 0, minRotation: 0, padding: 8,
              font: { size: 17 }, color: '#262626',
              callback: v => {
                const i = p.labelAt.findIndex(a => Math.abs(a - v) < 1e-6);
                return i >= 0 ? p.labels[i] : '';
              }
            },
            afterBuildTicks: s => { s.ticks = p.ticks.map(v => ({ value: v })); },
            afterFit: s => { s.height = last ? 40 : 0; s.paddingLeft = 0; s.paddingRight = 0; s.paddingTop = 0; s.paddingBottom = 0; }
          },
          y: {
            type: 'linear', min: p.yr[k][0], max: p.yr[k][1],
            grid: { display: false, drawTicks: false }, border: { display: false },
            ticks: { padding: 7, font: { size: 17 }, color: '#262626', callback: v => String(v) },
            afterBuildTicks: s => { s.ticks = p.yTicks[k].map(v => ({ value: v })); },
            afterFit: s => { s.width = L; s.paddingLeft = 0; s.paddingRight = 0; s.paddingTop = 0; s.paddingBottom = 0; }
          }
        }
      }
    });
  }

  const mid = i => (edges[i] + edges[i + 1]) / 2;
  addDiv('ylab', 'B<sub>MSO</sub> (nT)', p.ylx, mid(0) + 3);
  addDiv('ylab', '|B| (nT)', p.ylx, mid(1));
  addDiv('ylab', '&Delta;B/B<sub>0</sub>', p.ylx, mid(2));
  addDiv('leg', '<span style="color:#000">B<sub>x</sub></span><span style="color:#0000ff">B<sub>y</sub></span><span style="color:#ff0000">B<sub>z</sub></span>',
    p.right - 54, edges[1] - 28);
});
</script>
</body>
</html>
